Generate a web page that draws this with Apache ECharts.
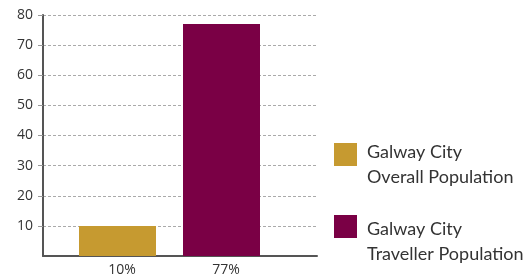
<!DOCTYPE html>
<html><head><meta charset="utf-8">
<script src="https://cdn.jsdelivr.net/npm/echarts@6/dist/echarts.min.js"></script>
<style>html,body{margin:0;padding:0;background:#fff}#c{width:528px;height:279px}</style>
</head><body><div id="c"></div>
<script>
const categories = ['10%', '77%'];
const seriesNames = ['Galway City\nOverall Population', 'Galway City\nTraveller Population'];
const overallValues = [10, '-'];
const travellerValues = ['-', 77];
const colors = ['#c69a30', '#7a0045'];

const legendGraphics = [];
seriesNames.forEach((name, i) => {
  legendGraphics.push({type: 'rect', left: 334, top: 143 + i * 72, shape: {width: 23, height: 23}, style: {fill: colors[i]}, silent: true});
  legendGraphics.push({type: 'text', left: 367, top: 140 + i * 77, style: {text: name, fill: '#333', font: '18px Lato', lineHeight: 25}, silent: true});
});

const chart = echarts.init(document.getElementById('c'));
chart.setOption({
  animation: false,
  color: colors,
  textStyle: {fontFamily: 'Open Sans'},
  grid: [
    {left: 43, right: 211, top: 15, bottom: 23, containLabel: false},
    {left: 65.5, width: 208, top: 15, bottom: 23, containLabel: false}
  ],
  graphic: legendGraphics,
  xAxis: [
    {type: 'value', gridIndex: 0, min: 0, max: 1, show: true,
      axisLine: {show: true, onZero: false, lineStyle: {color: '#555', width: 2}},
      axisTick: {show: false}, axisLabel: {show: false}, splitLine: {show: false}},
    {type: 'category', gridIndex: 1, data: categories,
      axisLine: {show: false}, axisTick: {show: false},
      axisLabel: {fontSize: 14, color: '#333', margin: 7, padding: [0, 0, 0, 9]}}
  ],
  yAxis: [
    {type: 'value', gridIndex: 0, min: 0, max: 80, interval: 10,
      axisLine: {show: true, lineStyle: {color: '#555', width: 2}},
      axisTick: {show: true, length: 5, lineStyle: {color: '#999'}},
      axisLabel: {fontSize: 14, color: '#333', margin: 10, showMinLabel: false},
      splitLine: {show: true, lineStyle: {color: '#aaa', type: [3, 2], width: 1}}},
    {type: 'value', gridIndex: 1, min: 0, max: 80, interval: 10, show: false}
  ],
  series: [
    {name: seriesNames[0], type: 'bar', xAxisIndex: 1, yAxisIndex: 1, stack: 'a', barWidth: 77, data: overallValues},
    {name: seriesNames[1], type: 'bar', xAxisIndex: 1, yAxisIndex: 1, stack: 'a', barWidth: 77, data: travellerValues}
  ]
});
</script></body></html>
